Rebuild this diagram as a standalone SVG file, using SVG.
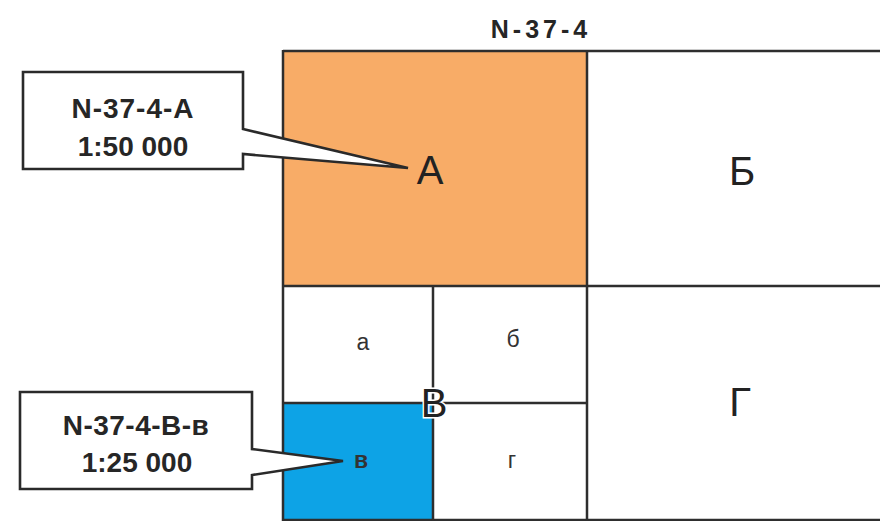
<svg xmlns="http://www.w3.org/2000/svg" width="880" height="521" viewBox="0 0 880 521">
  <style>
    .grid { stroke: #2e2e2e; stroke-width: 2.5; fill: none; }
    .callout { fill: #ffffff; stroke: #2a2a2a; stroke-width: 2.6; stroke-linejoin: miter; }
    .ctext { font-family: "Liberation Sans", Arial, sans-serif; font-weight: bold; font-size: 28px; fill: #262626; text-anchor: middle; }
    .big { font-family: "Liberation Sans", Arial, sans-serif; font-size: 40px; fill: #222222; text-anchor: middle; }
    .small { font-family: "Liberation Sans", Arial, sans-serif; font-size: 23px; fill: #333333; text-anchor: middle; }
    .title { font-family: "Liberation Sans", Arial, sans-serif; font-weight: bold; font-size: 25px; fill: #262626; text-anchor: middle; letter-spacing: 4px; }
  </style>
  <rect width="880" height="521" fill="#ffffff"/>

  <!-- sheet title -->
  <text class="title" x="541" y="38">N-37-4</text>

  <!-- fills of the highlighted sheets -->
  <rect id="sheet-A" x="283" y="51" width="304" height="235" fill="#F8AC67"/>
  <rect id="sheet-V-v" x="283" y="403" width="150" height="117" fill="#0DA3E6"/>

  <!-- sheet grid -->
  <g id="grid" class="grid">
    <line x1="283" y1="51" x2="880" y2="51"/>
    <line x1="283" y1="286" x2="880" y2="286"/>
    <line x1="283" y1="520" x2="880" y2="520"/>
    <line x1="283" y1="50" x2="283" y2="521"/>
    <line x1="587" y1="50" x2="587" y2="521"/>
    <line x1="433" y1="286" x2="433" y2="521"/>
    <line x1="283" y1="403" x2="587" y2="403"/>
  </g>

  <!-- quarter labels -->
  <g id="labels">
    <text class="big" x="430" y="184">А</text>
    <text class="big" x="742" y="185">Б</text>
    <text class="big" x="740" y="416">Г</text>
    <text class="big" x="434" y="417" stroke="#ffffff" stroke-width="3" paint-order="stroke">В</text>
    <text class="small" x="363" y="350">а</text>
    <text class="small" x="513" y="347">б</text>
    <text class="small" x="512" y="468">г</text>
    <text class="small" x="361" y="468" fill="#1d4f78" font-weight="bold" font-size="18">в</text>
  </g>

  <!-- callouts -->
  <g id="callout-A">
    <path class="callout" d="M23,72 H243 V129 L408,168 L243,154 V169 H23 Z"/>
    <text class="ctext" x="133" y="118" letter-spacing="1">N-37-4-A</text>
    <text class="ctext" x="133" y="156">1:50 000</text>
  </g>
  <g id="callout-V-v">
    <path class="callout" d="M20,392 H252 V449 L343,461 L252,475 V489 H20 Z"/>
    <text class="ctext" x="136" y="435" letter-spacing="0.5">N-37-4-B-в</text>
    <text class="ctext" x="137" y="472">1:25 000</text>
  </g>
</svg>
